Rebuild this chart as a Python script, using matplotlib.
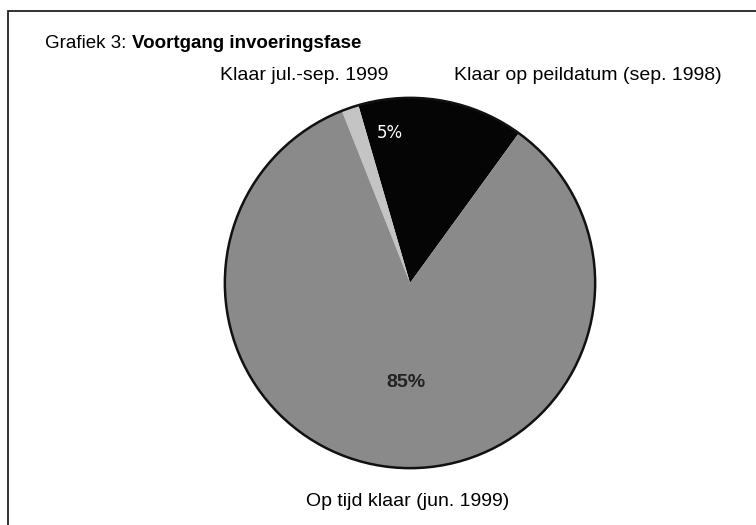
import matplotlib
matplotlib.use("Agg")
import matplotlib.pyplot as plt
from matplotlib.patches import Rectangle

plt.rcParams['font.family'] = ['Liberation Sans', 'DejaVu Sans']

# data (slice sizes as drawn)
categories = ['Klaar op peildatum (sep. 1998)', 'Klaar jul.-sep. 1999', 'Op tijd klaar (jun. 1999)']
sizes = [14.5, 1.5, 84.0]
pct_labels = ['5%', '', '85%']
colors = ['#050505', '#c4c4c4', '#8a8a8a']

W, H = 756, 525
fig = plt.figure(figsize=(W / 100, H / 100), dpi=100)

# frame round the graphic (runs off to the right and bottom)
fig.patches.append(Rectangle((8 / W, -0.05), 1.1, 1 - 11 / H + 0.05, transform=fig.transFigure,
                             fill=False, lw=1.3, ec='#222222'))

# pie axes: centre (410, 283) px, radius 187 px
cx, cy, r = 410, 283, 187
ax = fig.add_axes([(cx - r) / W, (H - cy - r) / H, 2 * r / W, 2 * r / H])
wedges, _ = ax.pie(sizes, colors=colors, startangle=54, counterclock=True,
                   wedgeprops=dict(linewidth=0))
ax.add_patch(plt.Circle((0, 0), 1.0, fill=False, lw=1.8, ec='#111111'))
ax.set_xlim(-1.01, 1.01)
ax.set_ylim(-1.01, 1.01)
ax.set_aspect('equal')
ax.axis('off')

# percentage labels
ax.text(-0.11, 0.81, pct_labels[0], color='white', fontsize=12, ha='center', va='center',
        family=['DejaVu Sans'])
ax.text(-0.02, -0.54, pct_labels[2], color='#222222', fontsize=14, fontweight='bold',
        ha='center', va='center')

# category labels
def px(x, y):
    return x / W, 1 - y / H

fig.text(*px(304, 76), categories[1], fontsize=14, ha='center', va='center')
fig.text(*px(588, 76), categories[0], fontsize=14, ha='center', va='center')
fig.text(*px(408, 501), categories[2], fontsize=14, ha='center', va='center')

# title: normal prefix, bold rest
t1 = fig.text(*px(45, 43), 'Grafiek 3: ', fontsize=13.5, ha='left', va='center')
fig.canvas.draw()
bb = t1.get_window_extent()
fig.text(bb.x1 / W, 1 - 43 / H, 'Voortgang invoeringsfase', fontsize=13.5,
         fontweight='bold', ha='left', va='center')

fig.savefig('out.png', dpi=100, facecolor='white')
